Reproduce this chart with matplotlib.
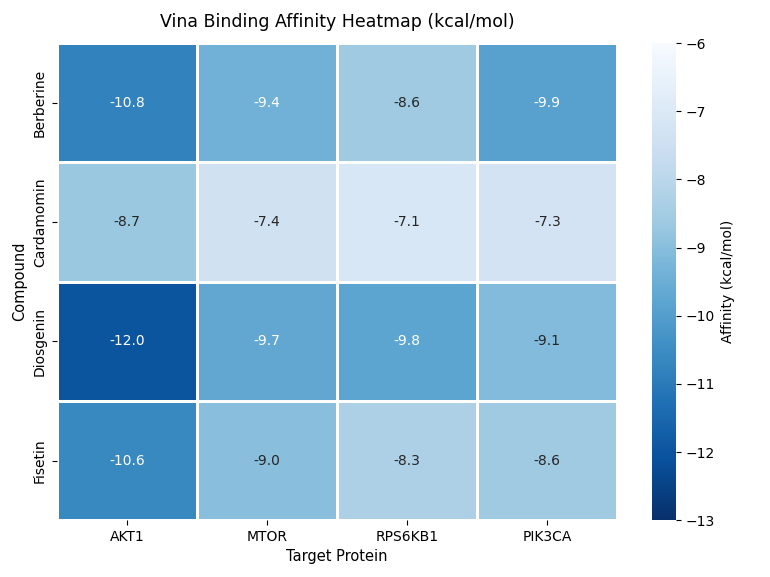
import matplotlib
matplotlib.use("Agg")
import matplotlib.pyplot as plt
import seaborn as sns
import pandas as pd

compounds = ["Berberine", "Cardamomin", "Diosgenin", "Fisetin"]
targets = ["AKT1", "MTOR", "RPS6KB1", "PIK3CA"]
affinity = [
    [-10.8, -9.4, -8.6, -9.9],
    [-8.7, -7.4, -7.1, -7.3],
    [-12.0, -9.7, -9.8, -9.1],
    [-10.6, -9.0, -8.3, -8.6],
]

df = pd.DataFrame(affinity, index=compounds, columns=targets)

fig, ax = plt.subplots(figsize=(7.7, 5.77), dpi=100)
sns.heatmap(df, annot=True, fmt=".1f", cmap="Blues_r", vmin=-13, vmax=-6,
            linewidths=1, linecolor="white", ax=ax,
            cbar_kws={"label": "Affinity (kcal/mol)"})
ax.set_title("Vina Binding Affinity Heatmap (kcal/mol)", fontsize=12.5, pad=12)
ax.set_xlabel("Target Protein", fontsize=10.5)
ax.set_ylabel("Compound", fontsize=10.5)
plt.tight_layout(pad=0.9)
plt.savefig("out.png", dpi=100)
